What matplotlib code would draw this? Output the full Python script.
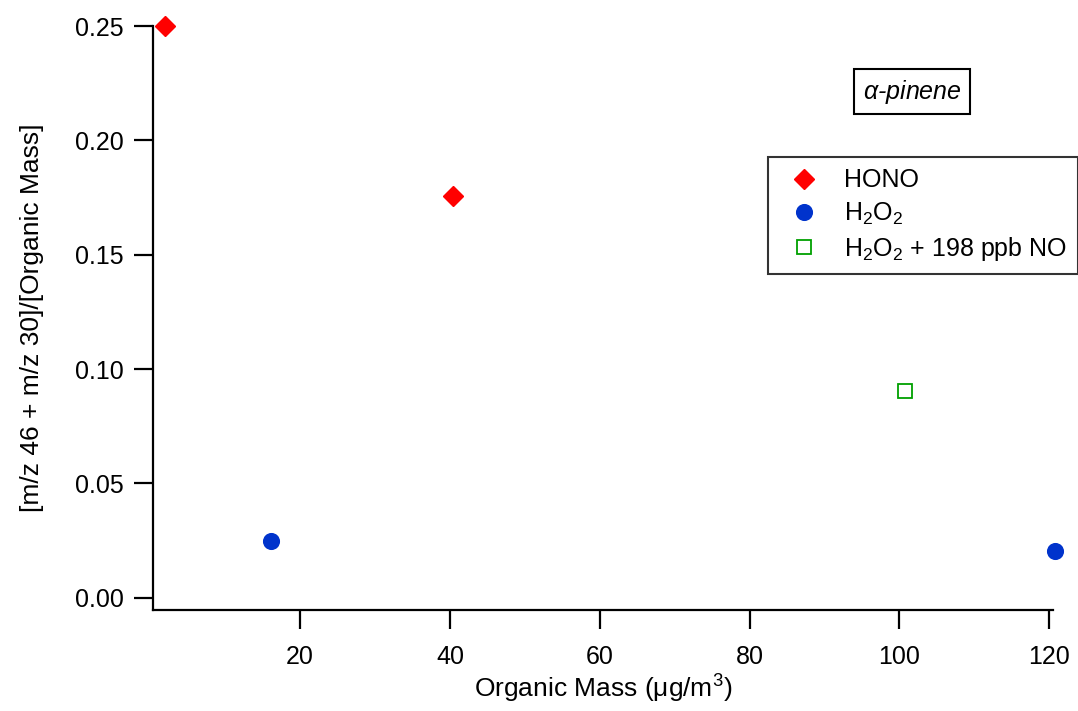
import matplotlib
matplotlib.use("Agg")
import matplotlib.pyplot as plt

plt.rcParams['font.family'] = ['Liberation Sans', 'DejaVu Sans']
plt.rcParams['mathtext.fontset'] = 'custom'
plt.rcParams['mathtext.rm'] = 'Liberation Sans'
plt.rcParams['mathtext.it'] = 'Liberation Sans:italic'
plt.rcParams['mathtext.default'] = 'regular'

# Data
hono_x = [2.0, 40.4]
hono_y = [0.250, 0.1757]
h2o2_x = [16.1, 120.8]
h2o2_y = [0.0248, 0.0205]
h2o2no_x = [100.8]
h2o2no_y = [0.0904]

labels = ["HONO", "H$_2$O$_2$", "H$_2$O$_2$ + 198 ppb NO"]
xticks = [20, 40, 60, 80, 100, 120]
yticks = [0.00, 0.05, 0.10, 0.15, 0.20, 0.25]

FS = 18
LFS = 19

fig = plt.figure(figsize=(10.78, 7.11), dpi=100)
ax = fig.add_axes([0.1417, 0.142, 0.835, 0.8214])

ax.plot(hono_x, hono_y, linestyle='none', marker='D', markersize=10.5,
        color='#FF0000', label=labels[0], clip_on=False)
ax.plot(h2o2_x, h2o2_y, linestyle='none', marker='o', markersize=11.3,
        color='#0033CC', label=labels[1], clip_on=False)
ax.plot(h2o2no_x, h2o2no_y, linestyle='none', marker='s', markersize=10.5,
        markerfacecolor='none', markeredgecolor='#00A000', markeredgewidth=1.3,
        label=labels[2], clip_on=False)

ax.set_xlim(0.33, 120.5)
ax.set_ylim(-0.0054, 0.25)
ax.set_xticks(xticks)
ax.set_yticks(yticks)
ax.set_yticklabels([f"{v:.2f}" for v in yticks])

for s in ['top', 'right']:
    ax.spines[s].set_visible(False)
for s in ['left', 'bottom']:
    ax.spines[s].set_linewidth(1.6)
ax.tick_params(direction='out', length=14, width=1.6, labelsize=FS)
ax.tick_params(axis='x', pad=11)
ax.tick_params(axis='y', pad=7)

ax.set_xlabel("Organic Mass (μg/m$^3$)", fontsize=LFS, labelpad=3)
ax.set_ylabel("[m/z 46 + m/z 30]/[Organic Mass]", fontsize=LFS, labelpad=22)

fig.text(0.846, 0.8713, r"$\alpha$-pinene", fontsize=FS, style='italic',
         ha='center', va='center',
         bbox=dict(boxstyle='square,pad=0.35', facecolor='white',
                   edgecolor='black', linewidth=1.5))

leg = ax.legend(loc='upper left', bbox_to_anchor=(768/1078, 1 - 157/711),
                bbox_transform=fig.transFigure, fontsize=FS, frameon=True,
                fancybox=False, edgecolor='black', borderpad=0.45,
                handletextpad=0.6, labelspacing=0.33, handlelength=2.0,
                borderaxespad=0)
leg.get_frame().set_linewidth(1.5)

fig.savefig("out.png", dpi=100)
